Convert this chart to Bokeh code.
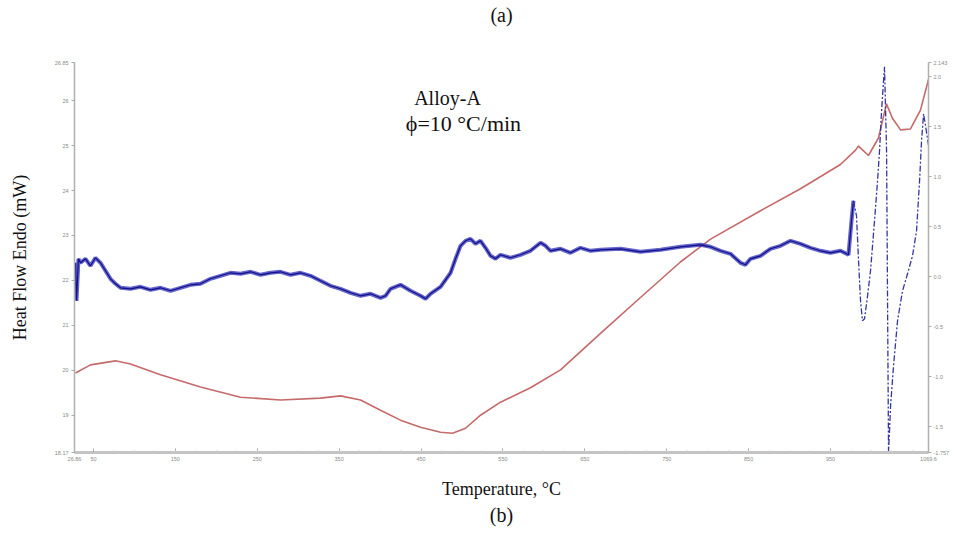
from bokeh.plotting import figure
from bokeh.models import Range1d, LinearAxis, FixedTicker, Label, Title
from bokeh.embed import file_html
from bokeh.resources import INLINE

# ---- data ----
# red curve: heat flow (left axis, mW) vs temperature (°C)
temp_red = [28.1, 46.4, 76.9, 95.2, 131.9, 180.7, 229.5, 278.4, 327.2, 351.6, 376.1, 400.5,
            424.9, 449.3, 473.8, 488.4, 504.3, 522.6, 547.0, 583.6, 620.3, 669.1, 717.9,
            766.7, 803.5, 864.5, 913.3, 962.1, 980.5, 984.1, 996.3, 1008.5, 1018.3, 1025.6,
            1035.4, 1047.6, 1059.8, 1069.6]
heat_red = [19.94, 20.12, 20.21, 20.14, 19.90, 19.63, 19.40, 19.34, 19.38, 19.43, 19.34, 19.11,
            18.89, 18.73, 18.62, 18.60, 18.71, 19.00, 19.29, 19.61, 20.01, 20.82, 21.62,
            22.41, 22.92, 23.55, 24.04, 24.58, 24.90, 24.99, 24.78, 25.17, 25.93, 25.61,
            25.35, 25.37, 25.79, 26.47]

# blue noisy curve (right axis)
temp_blue = [28.1, 29.3, 31.7, 34.2, 40.3, 46.4, 52.5, 58.6, 64.7, 70.8, 76.9, 83.0, 95.2,
             107.4, 119.7, 131.9, 144.1, 156.3, 168.5, 180.7, 192.9, 205.1, 217.3, 229.5,
             241.8, 254.0, 266.2, 278.4, 290.6, 302.8, 315.0, 327.2, 339.4, 351.6, 363.9,
             376.1, 388.3, 400.5, 406.6, 412.7, 424.9, 437.1, 449.3, 455.4, 461.5, 473.8,
             486.0, 492.1, 498.2, 504.3, 510.4, 516.5, 522.6, 528.7, 534.8, 540.9, 547.0,
             559.2, 571.4, 583.6, 595.9, 602.0, 608.1, 620.3, 632.5, 644.7, 656.9, 669.1,
             693.5, 717.9, 742.4, 766.7, 791.2, 803.4, 815.6, 827.8, 840.0, 846.1, 852.2,
             864.5, 876.7, 888.9, 901.1, 913.3, 925.5, 937.7, 949.9, 962.1, 971.9, 975.6, 978.0]
deriv_blue = [0.14, -0.24, 0.18, 0.14, 0.18, 0.11, 0.19, 0.14, 0.06, -0.02, -0.07, -0.11, -0.12,
              -0.10, -0.13, -0.11, -0.14, -0.11, -0.08, -0.07, -0.02, 0.01, 0.04, 0.03,
              0.05, 0.02, 0.04, 0.05, 0.02, 0.04, 0.01, -0.04, -0.09, -0.12, -0.16,
              -0.19, -0.17, -0.21, -0.19, -0.12, -0.08, -0.14, -0.19, -0.22, -0.17, -0.10,
              0.04, 0.18, 0.31, 0.36, 0.38, 0.33, 0.36, 0.29, 0.21, 0.18, 0.22,
              0.19, 0.22, 0.26, 0.34, 0.31, 0.26, 0.28, 0.24, 0.29, 0.26, 0.27,
              0.28, 0.25, 0.27, 0.30, 0.32, 0.30, 0.26, 0.23, 0.14, 0.12, 0.18,
              0.21, 0.28, 0.31, 0.36, 0.33, 0.29, 0.26, 0.24, 0.26, 0.22, 0.56, 0.76]

# blue dash-dot part (right axis)
temp_dash = [978.0, 981.7, 984.2, 986.6, 989.0, 991.5, 995.2, 998.8, 1003.7, 1007.4, 1009.8,
             1012.3, 1014.7, 1015.9, 1018.4, 1019.6, 1020.8, 1022.0, 1023.3, 1026.9, 1031.8,
             1037.9, 1044.0, 1050.1, 1055.0, 1058.7, 1061.1, 1063.6, 1066.0, 1069.7]
deriv_dash = [0.76, 0.61, 0.16, -0.24, -0.44, -0.42, -0.19, 0.06, 0.56, 0.96, 1.26,
              1.66, 1.96, 2.10, 1.26, -0.24, -1.75, -1.54, -1.29, -0.89, -0.44,
              -0.14, 0.03, 0.21, 0.46, 0.96, 1.36, 1.63, 1.51, 1.31]

x_ticks = [26.86, 50, 150, 250, 350, 450, 550, 650, 750, 850, 950, 1069.6]
x_labels = ["26.86", "50", "150", "250", "350", "450", "550", "650", "750", "850", "950", "1069.6"]
y_ticks = [18.17, 19, 20, 21, 22, 23, 24, 25, 26, 26.85]
y_labels = ["18.17", "19", "20", "21", "22", "23", "24", "25", "26", "26.85"]
r_ticks = [-1.757, -1.5, -1.0, -0.5, 0.0, 0.5, 1.0, 1.5, 2.0, 2.143]
r_labels = ["-1.757", "-1.5", "-1.0", "-0.5", "0.0", "0.5", "1.0", "1.5", "2.0", "2.143"]

x_start, x_end = 26.86, 1069.6
y_start, y_end = 18.17, 26.85
r_start, r_end = -1.757, 2.143

serif = "Liberation Serif"

p = figure(width=955, height=546, output_backend="svg", toolbar_location=None,
           x_range=Range1d(x_start, x_end), y_range=Range1d(y_start, y_end),
           min_border_left=74, min_border_right=27, min_border_top=62, min_border_bottom=94,
           x_axis_location=None, y_axis_location=None)
p.extra_y_ranges = {"r": Range1d(r_start, r_end)}
p.outline_line_color = None
p.grid.visible = False
p.background_fill_color = "white"
p.border_fill_color = "white"

tick_font = "5.5px"
tick_col = "#8a8a8a"

# caption "(a)" above the plot, carried by an axis without ticks
topaxis = LinearAxis(ticker=FixedTicker(ticks=[]))
topaxis.axis_line_color = None
topaxis.major_tick_line_color = None
topaxis.minor_tick_line_color = None
topaxis.major_label_text_font_size = "0px"
topaxis.major_tick_in = 0
topaxis.major_tick_out = 0
topaxis.minor_tick_in = 0
topaxis.minor_tick_out = 0
topaxis.major_label_standoff = 0
topaxis.axis_label = "(a)"
topaxis.axis_label_text_font = serif
topaxis.axis_label_text_font_size = "20px"
topaxis.axis_label_text_font_style = "normal"
topaxis.axis_label_text_color = "#111111"
topaxis.axis_label_standoff = 37
p.add_layout(topaxis, "above")

xaxis = LinearAxis(ticker=FixedTicker(ticks=x_ticks, minor_ticks=[x for x in range(75, 1070, 25)]),
                   major_label_overrides={t: l for t, l in zip(x_ticks, x_labels)})
xaxis.axis_line_color = "#c4c4c4"
xaxis.axis_line_width = 3
xaxis.major_tick_in = 4
xaxis.major_tick_out = 0
xaxis.minor_tick_in = 2
xaxis.minor_tick_out = 0
xaxis.major_tick_line_color = "#aaaaaa"
xaxis.minor_tick_line_color = "#cccccc"
xaxis.major_label_text_font_size = tick_font
xaxis.major_label_text_color = tick_col
xaxis.major_label_standoff = 4
xaxis.axis_label = "Temperature, \u00b0C"
xaxis.axis_label_text_font = serif
xaxis.axis_label_text_font_size = "18px"
xaxis.axis_label_text_font_style = "normal"
xaxis.axis_label_text_color = "#111111"
xaxis.axis_label_standoff = 15
p.add_layout(xaxis, "below")

p.add_layout(Title(text="(b)", align="center", text_font=serif, text_font_size="20px",
                   text_font_style="normal", text_color="#111111", standoff=0), "below")

yaxis = LinearAxis(ticker=FixedTicker(ticks=y_ticks),
                   major_label_overrides={t: l for t, l in zip(y_ticks, y_labels)})
yaxis.axis_line_color = "#b0b0b0"
yaxis.axis_line_width = 1.5
yaxis.major_tick_in = 0
yaxis.major_tick_out = 3
yaxis.minor_tick_line_color = None
yaxis.major_tick_line_color = "#aaaaaa"
yaxis.major_label_text_font_size = tick_font
yaxis.major_label_text_color = tick_col
yaxis.major_label_standoff = 3
yaxis.axis_label = "Heat Flow Endo (mW)"
yaxis.axis_label_text_font = serif
yaxis.axis_label_text_font_size = "18px"
yaxis.axis_label_text_font_style = "normal"
yaxis.axis_label_text_color = "#111111"
yaxis.axis_label_standoff = 22
p.add_layout(yaxis, "left")

raxis = LinearAxis(y_range_name="r", ticker=FixedTicker(ticks=r_ticks),
                   major_label_overrides={t: l for t, l in zip(r_ticks, r_labels)})
raxis.axis_line_color = "#b0b0b0"
raxis.axis_line_width = 1.5
raxis.major_tick_in = 0
raxis.major_tick_out = 3
raxis.minor_tick_line_color = None
raxis.major_tick_line_color = "#aaaaaa"
raxis.major_label_text_font_size = tick_font
raxis.major_label_text_color = tick_col
raxis.major_label_standoff = 2
p.add_layout(raxis, "right")

# curves
p.line(temp_red, heat_red, line_color="#c46a6a", line_width=1.6)
p.line(temp_blue, deriv_blue, y_range_name="r", line_color="#3030b8", line_width=4, line_alpha=0.75)
p.line(temp_blue, deriv_blue, y_range_name="r", line_color="#10108a", line_width=1.2)
p.line(temp_dash, deriv_dash, y_range_name="r", line_color="#3535a0", line_width=1.3,
       line_dash="6 2 2 2")


def add_text(x, y, txt, size):
    p.add_layout(Label(x=x, y=y, text=txt, text_font=serif, text_font_size=size,
                       text_align="center", text_baseline="middle", text_color="#111111"))


add_text(482.3, 26.06, "Alloy-A", "20px")
add_text(501.8, 25.50, "\u03d5=10 \u00b0C/min", "22px")

open("out.html", "w").write(file_html(p, INLINE))
